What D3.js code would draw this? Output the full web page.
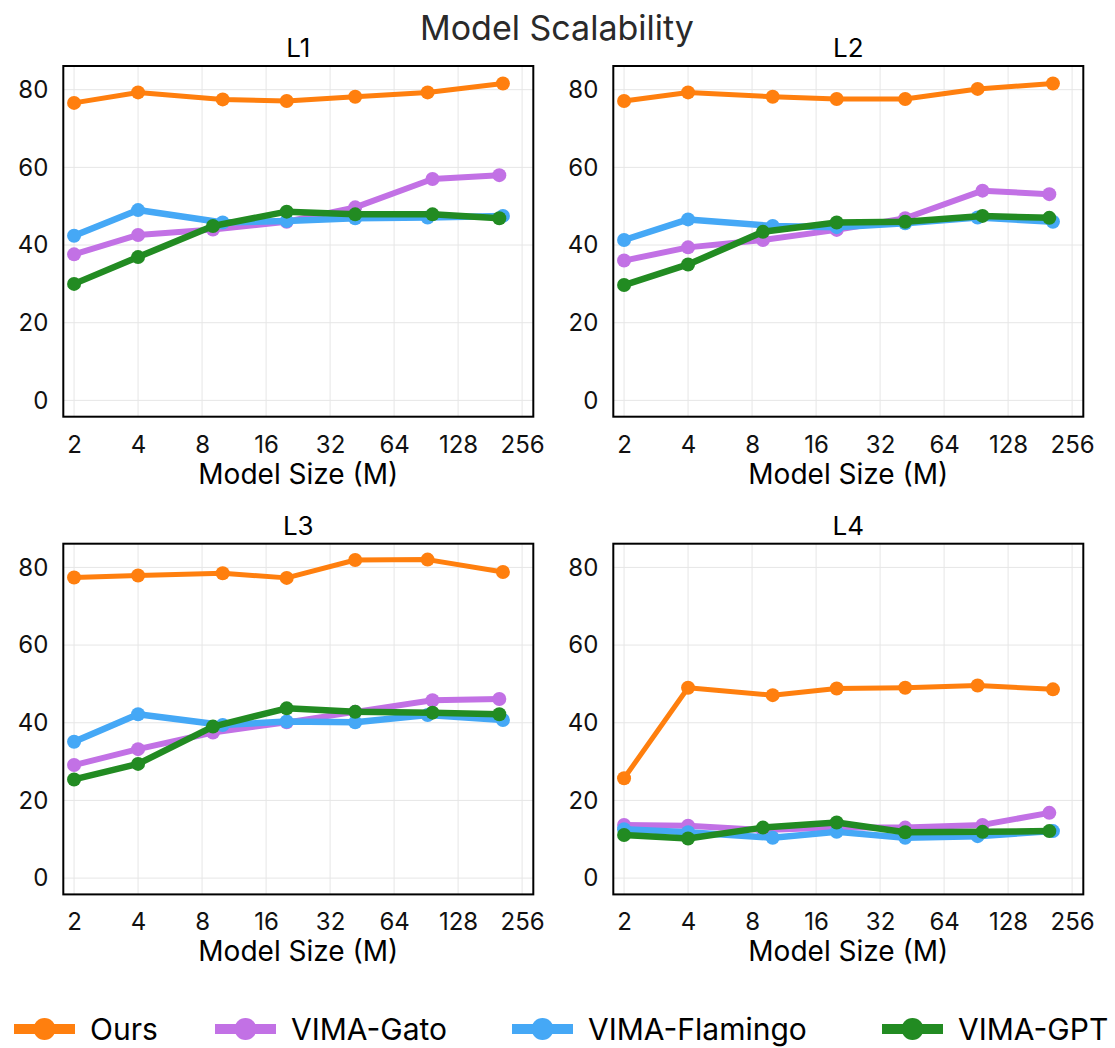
<!DOCTYPE html>
<html>
<head>
<meta charset="utf-8">
<script src="https://cdn.jsdelivr.net/npm/d3@7"></script>
<style>
  html, body { margin: 0; padding: 0; background: #fff; }
  svg { display: block; font-family: Inter, "Noto Sans", sans-serif; }
</style>
</head>
<body>
<svg id="chart" width="1115" height="1048"></svg>
<script>
// ---------------- data ----------------
const chartTitle = "Model Scalability";
const panelTitles = ["L1", "L2", "L3", "L4"];
const seriesNames = ["Ours", "VIMA-Gato", "VIMA-Flamingo", "VIMA-GPT"];
const xTicks = [2, 4, 8, 16, 32, 64, 128, 256];
const yTicks = [0, 20, 40, 60, 80];
const xTitle = "Model Size (M)";

// model sizes (M) for each series
const sizesOurs     = [2, 4, 10, 20, 42, 92, 208];
const sizesGato     = [2, 4, 9, 20, 42, 97, 200];
const sizesFlamingo = [2, 4, 10, 20, 42, 92, 208];
const sizesGPT      = [2, 4, 9, 20, 42, 97, 200];

// success rates per level (L1..L4)
const ours = [
  [76.6, 79.3, 77.5, 77.1, 78.2, 79.3, 81.6],
  [77.1, 79.3, 78.2, 77.6, 77.6, 80.2, 81.6],
  [77.4, 77.9, 78.5, 77.3, 81.9, 82.0, 78.8],
  [25.7, 49.0, 47.1, 48.8, 49.0, 49.6, 48.6]
];
const gato = [
  [37.6, 42.6, 44.0, 46.0, 49.7, 57.0, 58.0],
  [36.0, 39.4, 41.3, 43.9, 46.9, 54.0, 53.1],
  [29.1, 33.2, 37.5, 40.1, 42.8, 45.8, 46.1],
  [13.7, 13.5, 12.4, 13.0, 13.0, 13.7, 16.8]
];
const flamingo = [
  [42.4, 49.0, 45.8, 46.2, 46.9, 47.1, 47.5],
  [41.3, 46.6, 44.9, 44.6, 45.6, 47.1, 46.0],
  [35.1, 42.2, 39.4, 40.3, 40.1, 42.0, 40.7],
  [12.6, 11.8, 10.4, 11.9, 10.4, 10.8, 12.1]
];
const gpt = [
  [30.0, 36.9, 44.9, 48.6, 47.9, 47.9, 46.9],
  [29.7, 35.0, 43.4, 45.8, 46.0, 47.5, 47.0],
  [25.4, 29.4, 39.0, 43.7, 42.8, 42.6, 42.2],
  [11.1, 10.2, 13.0, 14.3, 11.8, 11.9, 12.1]
];

// ---------------- styling ----------------
const colors = ["#ff7f0e", "#c271e5", "#45a8f6", "#228b22"];
const lineWidths = [5, 6, 6.5, 6.5];
const seriesSizes = [sizesOurs, sizesGato, sizesFlamingo, sizesGPT];
const seriesValues = [ours, gato, flamingo, gpt];

const svg = d3.select("#chart");
const panelW = 470, panelH = 350.7;
const lefts = [63.3, 613.3], tops = [66, 543.7];

svg.append("text")
  .attr("x", 557).attr("y", 39.5)
  .attr("text-anchor", "middle")
  .attr("font-size", 34)
  .attr("fill", "#2a2a2a")
  .text(chartTitle);

panelTitles.forEach((title, p) => {
  const x0 = lefts[p % 2], y0 = tops[Math.floor(p / 2)];
  const g = svg.append("g").attr("transform", `translate(${x0},${y0})`);

  const x = d3.scaleLog().base(2).domain([1.78, 289]).range([0, panelW]);
  const y = d3.scaleLinear().domain([-4.2, 86.1]).range([panelH, 0]);

  // grid
  g.append("g").selectAll("line").data(xTicks).join("line")
    .attr("x1", d => x(d)).attr("x2", d => x(d))
    .attr("y1", 0).attr("y2", panelH)
    .attr("stroke", "#e6e6e6").attr("stroke-width", 1);
  g.append("g").selectAll("line").data(yTicks).join("line")
    .attr("x1", 0).attr("x2", panelW)
    .attr("y1", d => y(d)).attr("y2", d => y(d))
    .attr("stroke", "#e6e6e6").attr("stroke-width", 1);

  // axes
  const xAxis = g.append("g").attr("transform", `translate(0,${panelH})`)
    .call(d3.axisBottom(x).tickValues(xTicks).tickFormat(d3.format("d")).tickSize(0).tickPadding(19));
  xAxis.select(".domain").remove();
  xAxis.selectAll("text").attr("font-size", 24).attr("font-family", "Inter, sans-serif").attr("fill", "#111");

  const yAxis = g.append("g")
    .call(d3.axisLeft(y).tickValues(yTicks).tickSize(0).tickPadding(15));
  yAxis.select(".domain").remove();
  yAxis.selectAll("text").attr("font-size", 24).attr("font-family", "Inter, sans-serif").attr("fill", "#111");

  // series
  seriesNames.forEach((name, s) => {
    const xs = seriesSizes[s];
    const vals = seriesValues[s][p];
    const pts = xs.map((v, i) => [v, vals[i]]);
    const line = d3.line().x(d => x(d[0])).y(d => y(d[1]));
    g.append("path").datum(pts)
      .attr("d", line)
      .attr("fill", "none")
      .attr("stroke", colors[s])
      .attr("stroke-width", lineWidths[s])
      .attr("stroke-linejoin", "round");
    g.append("g").selectAll("circle").data(pts).join("circle")
      .attr("cx", d => x(d[0])).attr("cy", d => y(d[1]))
      .attr("r", 7).attr("fill", colors[s]);
  });

  // frame
  g.append("rect").attr("x", 0).attr("y", 0)
    .attr("width", panelW).attr("height", panelH)
    .attr("fill", "none").attr("stroke", "#000").attr("stroke-width", 2);

  // titles
  g.append("text")
    .attr("x", panelW / 2).attr("y", -9)
    .attr("text-anchor", "middle").attr("font-size", 26).attr("fill", "#000")
    .text(title);
  g.append("text")
    .attr("x", panelW / 2).attr("y", panelH + 67)
    .attr("text-anchor", "middle").attr("font-size", 28).attr("fill", "#000")
    .text(xTitle);
});

// legend
const legendX = [14, 215, 512, 882];
const legendY = 1029;
const legend = svg.append("g");
seriesNames.forEach((name, s) => {
  const lg = legend.append("g").attr("transform", `translate(${legendX[s]},${legendY})`);
  lg.append("line").attr("x1", 0).attr("x2", 61).attr("y1", 0).attr("y2", 0)
    .attr("stroke", colors[s]).attr("stroke-width", 10);
  lg.append("circle").attr("cx", 30.5).attr("cy", 0).attr("r", 11).attr("fill", colors[s]);
  lg.append("text").attr("x", 76).attr("y", 0).attr("dy", "0.36em")
    .attr("font-size", 30).attr("fill", "#000").text(name);
});
</script>
</body>
</html>
